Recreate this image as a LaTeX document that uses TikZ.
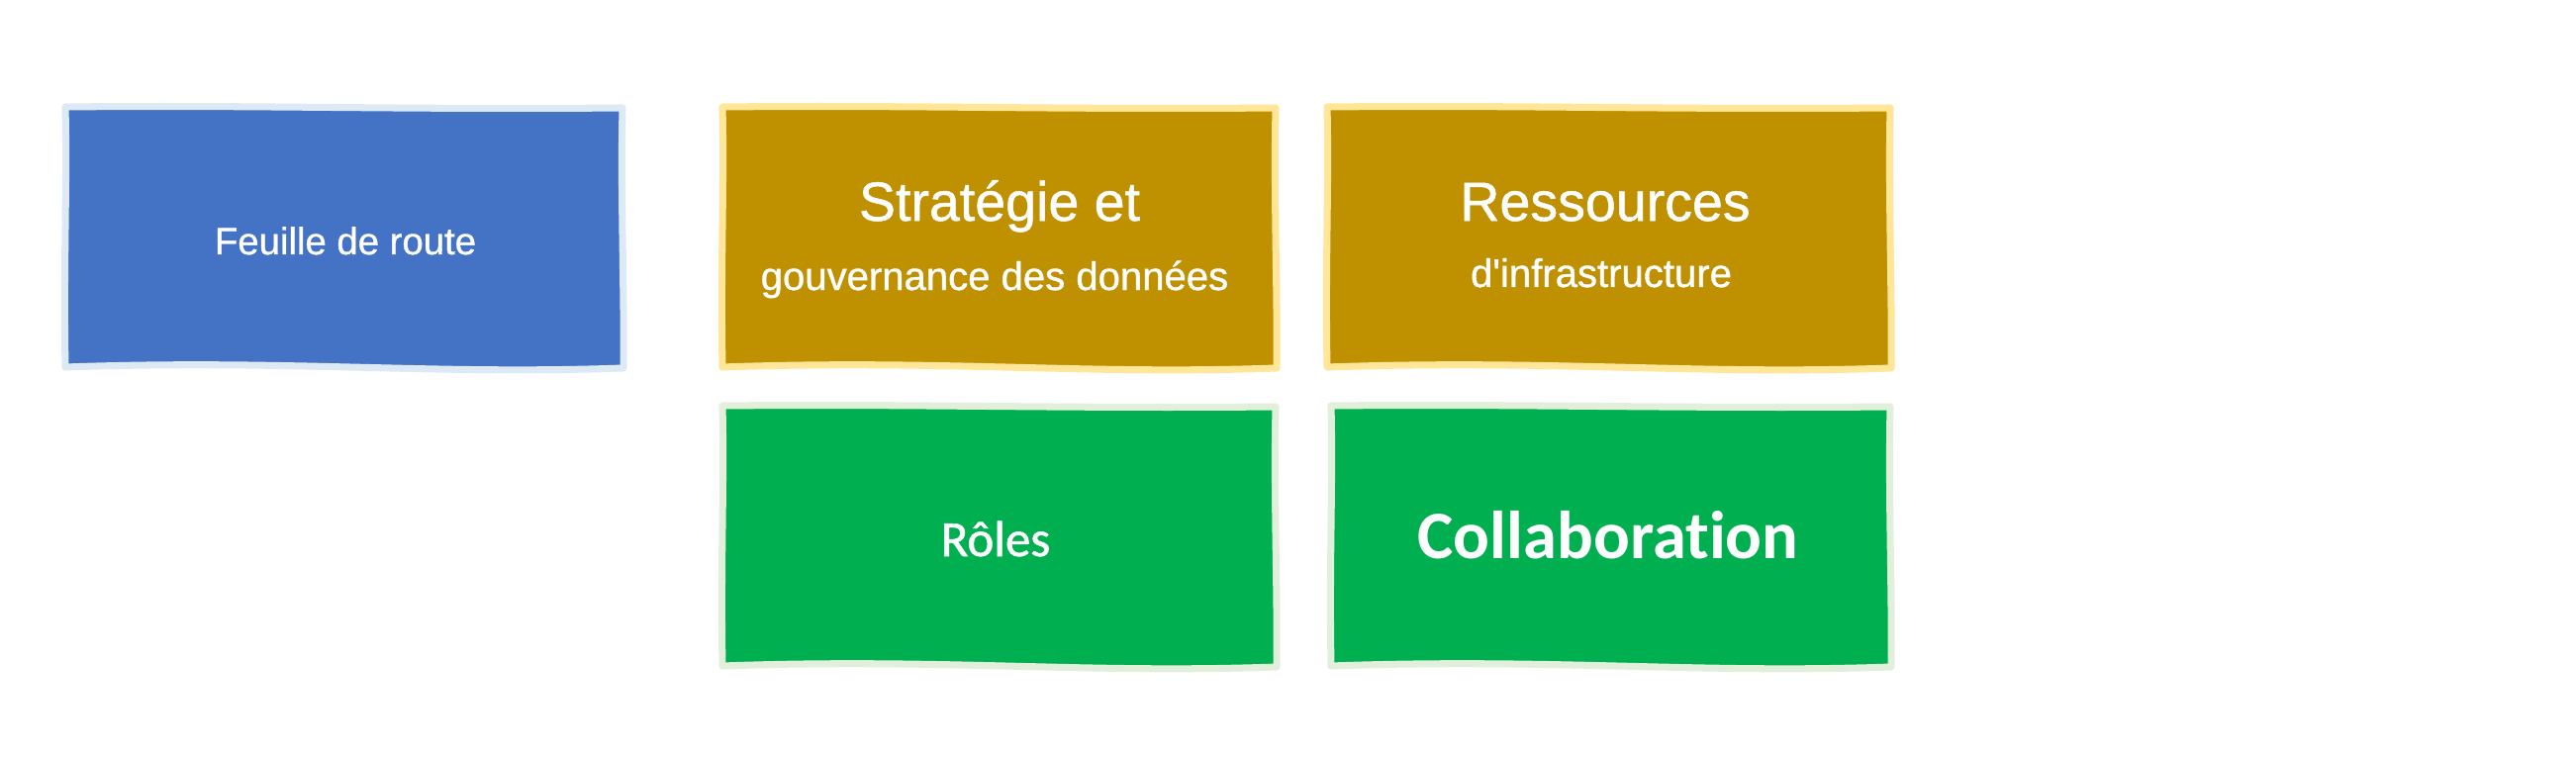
\documentclass[tikz,border=0pt]{standalone}
\usepackage{fontspec}
\setmainfont{Liberation Sans}[Ligatures=TeXOff,FakeBold=0.9]
\newfontfamily\carlito{Carlito}[Ligatures={TeXOff,NoCommon}]
\newfontfamily\carlitomed{Carlito}[Ligatures={TeXOff,NoCommon},FakeBold=1.2]
\definecolor{blueFill}{HTML}{4472C4}
\definecolor{blueEdge}{HTML}{DDEAF6}
\definecolor{goldFill}{HTML}{BF9000}
\definecolor{goldEdge}{HTML}{FFE699}
\definecolor{greenFill}{HTML}{00B050}
\definecolor{greenEdge}{HTML}{E2EFDA}
% wobbly box: x1 y1 x2 y2 fill edge
\newcommand\wbox[6]{%
 \filldraw[fill=#5,draw=#6,line width=2pt,line join=round]
 (#1,#2) .. controls ({#1+0.35*(#3-#1)},{#2-2}) and ({#1+0.6*(#3-#1)},{#2+3}) .. (#3,{#2+1})
 .. controls ({#3-2},{#2+0.35*(#4-#2)}) and ({#3+2},{#2+0.7*(#4-#2)}) .. ({#3+1},#4)
 .. controls ({#1+0.65*(#3-#1)},{#4+7}) and ({#1+0.4*(#3-#1)},{#4-9}) .. (#1,{#4-1})
 .. controls ({#1-2},{#2+0.6*(#4-#2)}) and ({#1+2},{#2+0.3*(#4-#2)}) .. cycle;}
\tikzset{
 txt/.style={text=white,inner sep=0pt,anchor=base},
 head/.style={txt,font=\fontsize{15.8}{18}\selectfont},
 sub/.style={txt,font=\fontsize{11.4}{13}\selectfont},
}
\begin{document}
\begin{tikzpicture}[x=0.01cm,y=-0.01cm]
\useasboundingbox (0,0) rectangle (2603,767);
\wbox{66}{108}{629}{372}{blueFill}{blueEdge}
\wbox{730}{108}{1289}{372}{goldFill}{goldEdge}
\wbox{1341}{108}{1910}{372}{goldFill}{goldEdge}
\wbox{730}{410}{1289}{674}{greenFill}{greenEdge}
\wbox{1345}{410}{1910}{674}{greenFill}{greenEdge}
\node[txt,font=\fontsize{10.9}{13}\selectfont] (feuille) at (349,257) {Feuille de route};
\node[head] (strat) at (1010,223) {Stratégie et};
\node[sub] (gouv) at (1005,293) {gouvernance des données};
\node[head] (ress) at (1622,223) {Ressources};
\node[sub] (infra) at (1618,290) {d'infrastructure};
\node[txt,font=\carlitomed\fontsize{14.5}{17}\selectfont] (roles) at (1006,562) {Rôles};
\node[txt,font=\carlito\bfseries\fontsize{19.5}{23}\selectfont] (collab) at (1625,564) {Collaboration};
\end{tikzpicture}
\end{document}
